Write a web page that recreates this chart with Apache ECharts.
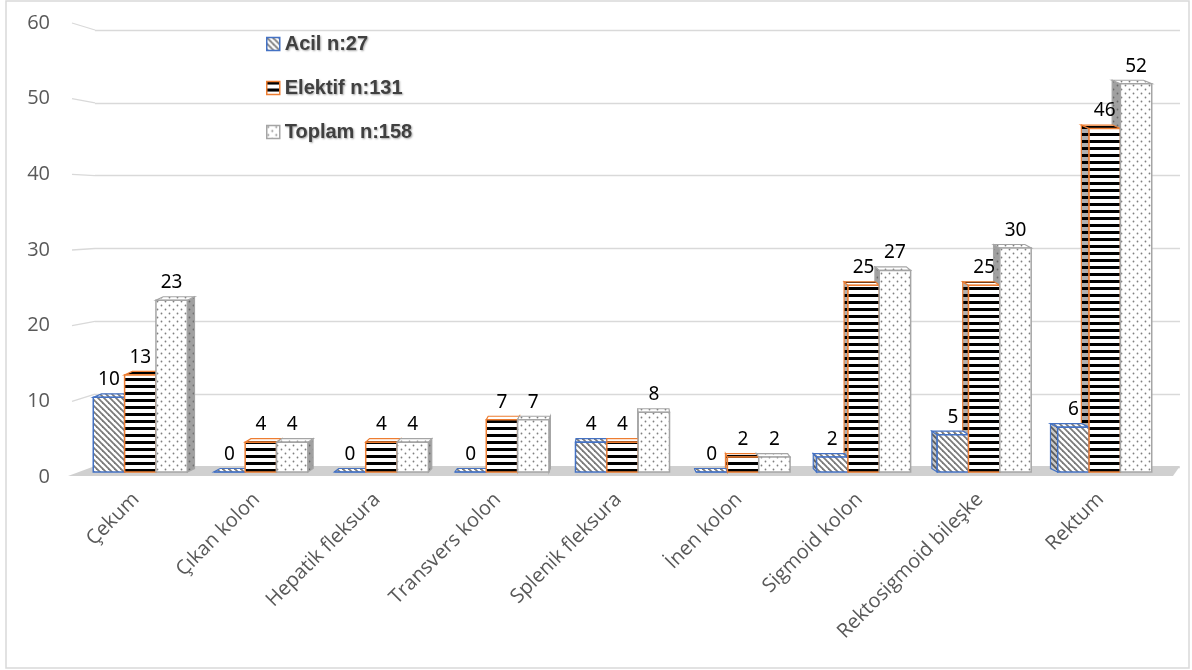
<!DOCTYPE html>
<html>
<head>
<meta charset="utf-8">
<script src="https://cdn.jsdelivr.net/npm/echarts@6/dist/echarts.min.js"></script>
<style>html,body{margin:0;padding:0;background:#fff;}#c{width:1192px;height:670px;}</style>
</head>
<body>
<div id="c"></div>
<script>
const categories = ['Çekum','Çıkan kolon','Hepatik fleksura','Transvers kolon','Splenik fleksura','İnen kolon','Sigmoid kolon','Rektosigmoid bileşke','Rektum'];
const acil = [10,0,0,0,4,0,2,5,6];
const elektif = [13,4,4,7,4,2,25,25,46];
const toplam = [23,4,4,7,8,2,27,30,52];
const seriesNames = ['Acil n:27','Elektif n:131','Toplam n:158'];
const yTicks = [0,10,20,30,40,50,60];

function makeCanvas(w,h,draw){const c=document.createElement('canvas');c.width=w;c.height=h;const g=c.getContext('2d');draw(g);return c;}
function diag(bg,fg){return makeCanvas(6,6,g=>{g.fillStyle=bg;g.fillRect(0,0,6,6);g.strokeStyle=fg;g.lineWidth=1.8;for(let k=-1;k<=1;k++){g.beginPath();g.moveTo(k*6-1,-1);g.lineTo(k*6+7,7);g.stroke();}});}
function hstripe(bg,fg){return makeCanvas(8,7,g=>{g.fillStyle=bg;g.fillRect(0,0,8,7);g.fillStyle=fg;g.fillRect(0,0,8,3);});}
function dots(bg,fg){return makeCanvas(8,8,g=>{g.fillStyle=bg;g.fillRect(0,0,8,8);g.fillStyle=fg;g.beginPath();g.arc(1.5,1.5,0.9,0,Math.PI*2);g.arc(5.5,5.5,0.9,0,Math.PI*2);g.fill();});}
const pat = c => ({image:c, repeat:'repeat'});
const styles = [
  {front:pat(diag('#ffffff','#7a7a7a')), side:pat(diag('#c8c8c8','#5a5a5a')), border:'#4472C4'},
  {front:pat(hstripe('#ffffff','#000000')), side:pat(hstripe('#b0b0b0','#000000')), border:'#ED7D31'},
  {front:pat(dots('#ffffff','#7f7f7f')), side:pat(dots('#a0a0a0','#6a6a6a')), border:'#A5A5A5'}
];
const seriesData = [acil, elektif, toplam];

const chart = echarts.init(document.getElementById('c'), null, {renderer:'canvas'});

function barRender(si){
  return function(params, api){
    const ci = api.value(0), v = api.value(1);
    const base = api.coord([ci,0]), top = api.coord([ci,v]);
    const band = api.size([1,0])[0];
    const bw = band*0.26;
    const cx = base[0] + (si-1)*bw;
    const x0 = cx-bw/2, x1 = cx+bw/2;
    const yb = base[1], yt = top[1];
    const cs = params.coordSys;
    const vpx = cs.x + cs.width*0.5;
    const dx = (vpx-cx)*0.016, dy = -3.5;
    const st = styles[si];
    let sidePts;
    if (dx>0) sidePts = [[x1,yt],[x1+dx,yt+dy],[x1+dx,yb+dy],[x1,yb]];
    else sidePts = [[x0,yt],[x0+dx,yt+dy],[x0+dx,yb+dy],[x0,yb]];
    const topPts = [[x0,yt],[x1,yt],[x1+dx,yt+dy],[x0+dx,yt+dy]];
    const children = [
      {type:'polygon', z2:1, shape:{points:sidePts}, style:{fill:st.side, stroke:st.border, lineWidth:1.2}},
      {type:'polygon', z2:2, shape:{points:topPts}, style:{fill:st.front, stroke:st.border, lineWidth:1.2}},
      {type:'rect', z2:10, shape:{x:x0,y:yt,width:bw,height:yb-yt}, style:{fill:st.front, stroke:st.border, lineWidth:1.5}},
      {type:'text', z2:20, style:{text:String(v), x:cx, y:yt-8, align:'center', verticalAlign:'bottom', font:'19px "Noto Sans"', fill:'#000'}}
    ];
    return {type:'group', children};
  };
}

const series = seriesNames.map((name,si)=>({
  name, type:'custom', xAxisIndex:0, yAxisIndex:0, z:2,
  itemStyle:{color:styles[si].front, borderColor:styles[si].border, borderWidth:1.5},
  data: seriesData[si].map((v,i)=>[i,v]),
  encode:{x:0,y:1},
  renderItem: barRender(si)
}));

series.unshift({
  type:'custom', xAxisIndex:0, yAxisIndex:0, z:1, silent:true,
  data:[[0,0]],
  renderItem:function(params, api){
    const cs = params.coordSys; const y0 = api.coord([0,0])[1];
    return {type:'polygon', shape:{points:[[cs.x-12,y0+4],[cs.x+cs.width+8,y0+4],[cs.x+cs.width+15,y0-6],[cs.x+15,y0-6]]}, style:{fill:'#d0d0d0'}};
  }
});

series.unshift({
  type:'custom', xAxisIndex:2, yAxisIndex:2, z:0, silent:true,
  data: yTicks.filter(v=>v>0).map(v=>[0,v]),
  renderItem:function(params, api){
    const v = api.value(1);
    const f = api.coord([0,v]);
    let b;
    try { b = chart.convertToPixel({gridIndex:1}, [0,v]); } catch(e) { b = [f[0]+25, f[1]]; }
    return {type:'line', shape:{x1:f[0]+2,y1:f[1],x2:b[0],y2:b[1]}, style:{stroke:'#d9d9d9', lineWidth:1.3}};
  }
});

const option = {
  animation:false,
  backgroundColor:'#ffffff',
  graphic:[{type:'rect', shape:{x:6,y:1,width:1183,height:667}, style:{fill:'none', stroke:'#d9d9d9', lineWidth:1.5}, silent:true}],
  legend:{
    orient:'vertical', left:261, top:29, itemGap:24, itemWidth:13, itemHeight:13,
    textStyle:{fontSize:20, fontWeight:'bold', color:'#404040', fontFamily:'"Liberation Sans"', textShadowColor:'rgba(0,0,0,0.35)', textShadowBlur:2, textShadowOffsetX:1, textShadowOffsetY:1},
    data: seriesNames.map((n,i)=>({name:n, icon:'rect', itemStyle:{color:styles[i].front, borderColor:styles[i].border, borderWidth:1.5}}))
  },
  grid:[
    {left:80, right:27, top:24, bottom:198},
    {left:95, right:12, top:30, bottom:203},
    {left:70, width:10, top:23, bottom:193}
  ],
  xAxis:[
    {gridIndex:0, type:'category', data:categories, axisLine:{show:false}, axisTick:{show:false}, splitLine:{show:false},
     axisLabel:{rotate:45, interval:0, margin:20, padding:[0,6,0,0], color:'#595959', fontSize:20, fontFamily:'"Open Sans"'}},
    {gridIndex:1, type:'value', min:0, max:1, show:false},
    {gridIndex:2, type:'value', min:0, max:1, show:false}
  ],
  yAxis:[
    {gridIndex:0, type:'value', min:0, max:60, interval:10, show:false},
    {gridIndex:1, type:'value', min:0, max:60, interval:10, axisLabel:{show:false}, axisLine:{show:false}, axisTick:{show:false}, splitLine:{show:true, lineStyle:{color:'#d9d9d9', width:1.3}}},
    {gridIndex:2, type:'value', min:0, max:60, interval:10, axisLine:{show:false}, axisTick:{show:false}, splitLine:{show:false},
     axisLabel:{color:'#595959', fontSize:20, fontFamily:'"Open Sans"', margin:20}}
  ],
  series
};
chart.setOption(option);
</script>
</body>
</html>
